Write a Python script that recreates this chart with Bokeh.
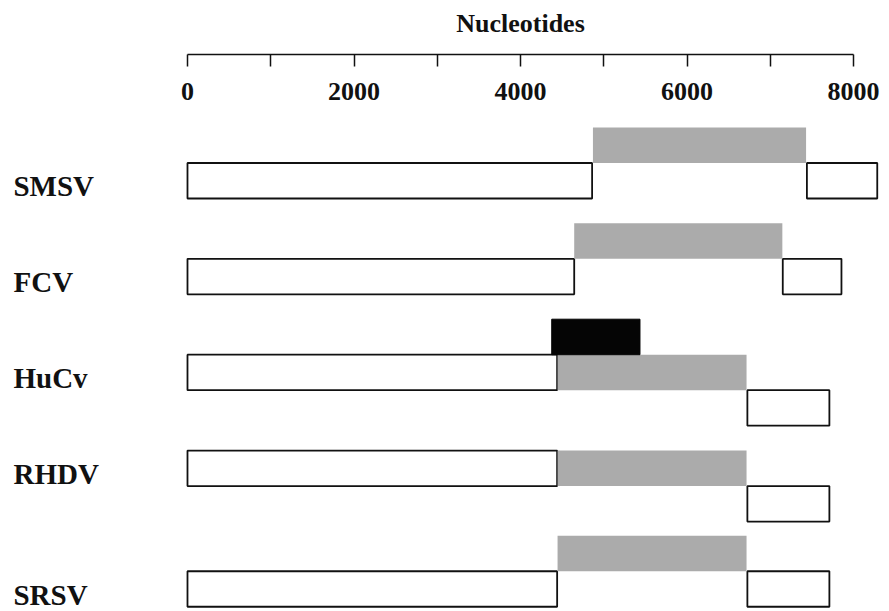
from bokeh.plotting import figure
from bokeh.models import Range1d, LinearAxis, FixedTicker, ColumnDataSource
from bokeh.layouts import column
from bokeh.embed import file_html
from bokeh.resources import INLINE
from bokeh.core.properties import value

# ---- data (nucleotide positions) ----
viruses = ["SMSV", "FCV", "HuCv", "RHDV", "SRSV"]
orf1_start = [0, 0, 0, 0, 0]
orf1_end = [4860, 4645, 4440, 4440, 4440]
orf2_start = [4870, 4645, 4445, 4445, 4445]
orf2_end = [7430, 7145, 6715, 6715, 6715]
orf3_start = [7440, 7150, 6725, 6725, 6725]
orf3_end = [8285, 7855, 7710, 7710, 7710]
extra_virus = ["HuCv"]
extra_start = [4375]
extra_end = [5435]

# reading-frame layout (lane of ORF1 for each virus, offsets of other ORFs)
row_lane = [1.0, 3.7, 6.4, 9.1, 12.5]
orf2_frame = [-1, -1, 0, 0, -1]
orf3_frame = [0, 0, 1, 1, 0]
extra_frame = [-1]

major_ticks = [0, 2000, 4000, 6000, 8000]
minor_ticks = [1000, 3000, 5000, 7000]

FONT = value("Liberation Serif")
W = 886

x_range = Range1d(-2246, 8396)

# ---- axis figure ----
top = figure(width=W, height=118, x_range=x_range, y_range=Range1d(0, 54),
             x_axis_type=None, y_axis_type=None, toolbar_location=None,
             output_backend="svg", min_border_left=0, min_border_right=0,
             min_border_top=0, min_border_bottom=64)
top.outline_line_color = None
top.xgrid.visible = False
top.ygrid.visible = False
ax = LinearAxis(ticker=FixedTicker(ticks=major_ticks, minor_ticks=minor_ticks))
ax.bounds = (major_ticks[0], major_ticks[-1])
ax.axis_line_width = 1.5
ax.axis_line_color = "#111111"
ax.major_tick_line_width = 1.5
ax.minor_tick_line_width = 1.5
ax.major_tick_line_color = "#111111"
ax.minor_tick_line_color = "#111111"
ax.major_tick_in = 0
ax.major_tick_out = 12
ax.minor_tick_in = 0
ax.minor_tick_out = 12
ax.major_label_standoff = 16
ax.major_label_text_font = "Liberation Serif"
ax.major_label_text_font_style = "bold"
ax.major_label_text_font_size = "26px"
ax.major_label_text_color = "#111111"
top.add_layout(ax, "below")
top.text(x=[(major_ticks[0] + major_ticks[-1]) / 2], y=[31], text=["Nucleotides"],
         text_font=FONT, text_font_style="bold", text_font_size="26px",
         text_align="center", text_baseline="middle", text_color="#111111")

# ---- genome maps ----
lane_lo = row_lane[-1] + 1.134
lane_hi = -0.2535
p = figure(width=W, height=493, x_range=x_range, y_range=Range1d(lane_lo, lane_hi),
           x_axis_type=None, y_axis_type=None, toolbar_location=None,
           output_backend="svg", min_border_left=0, min_border_right=0,
           min_border_top=0, min_border_bottom=0)
p.outline_line_color = None
p.xgrid.visible = False
p.ygrid.visible = False

white = ColumnDataSource(dict(
    left=orf1_start + orf3_start,
    right=orf1_end + orf3_end,
    top=list(row_lane) + [r + f for r, f in zip(row_lane, orf3_frame)],
    bottom=[r + 1 for r in row_lane] + [r + f + 1 for r, f in zip(row_lane, orf3_frame)],
))
gray = ColumnDataSource(dict(
    left=orf2_start, right=orf2_end,
    top=[r + f for r, f in zip(row_lane, orf2_frame)],
    bottom=[r + f + 1 for r, f in zip(row_lane, orf2_frame)],
))
ex_rows = [row_lane[viruses.index(v)] for v in extra_virus]
black = ColumnDataSource(dict(
    left=extra_start, right=extra_end,
    top=[r + f for r, f in zip(ex_rows, extra_frame)],
    bottom=[r + f + 1 for r, f in zip(ex_rows, extra_frame)],
))

p.quad(left="left", right="right", top="top", bottom="bottom", source=white,
       fill_color="white", line_color="#111111", line_width=1.8)
p.quad(left="left", right="right", top="top", bottom="bottom", source=gray,
       fill_color="#ababab", line_color=None)
p.quad(left="left", right="right", top="top", bottom="bottom", source=black,
       fill_color="#050505", line_color="#050505", line_width=1)

p.text(x=[-2090] * len(viruses), y=[r + 0.66 for r in row_lane], text=viruses,
       text_font=FONT, text_font_style="bold", text_font_size="29px",
       text_align="left", text_baseline="middle", text_color="#111111")

layout = column(top, p, spacing=0)
open("out.html", "w").write(file_html(layout, INLINE))
